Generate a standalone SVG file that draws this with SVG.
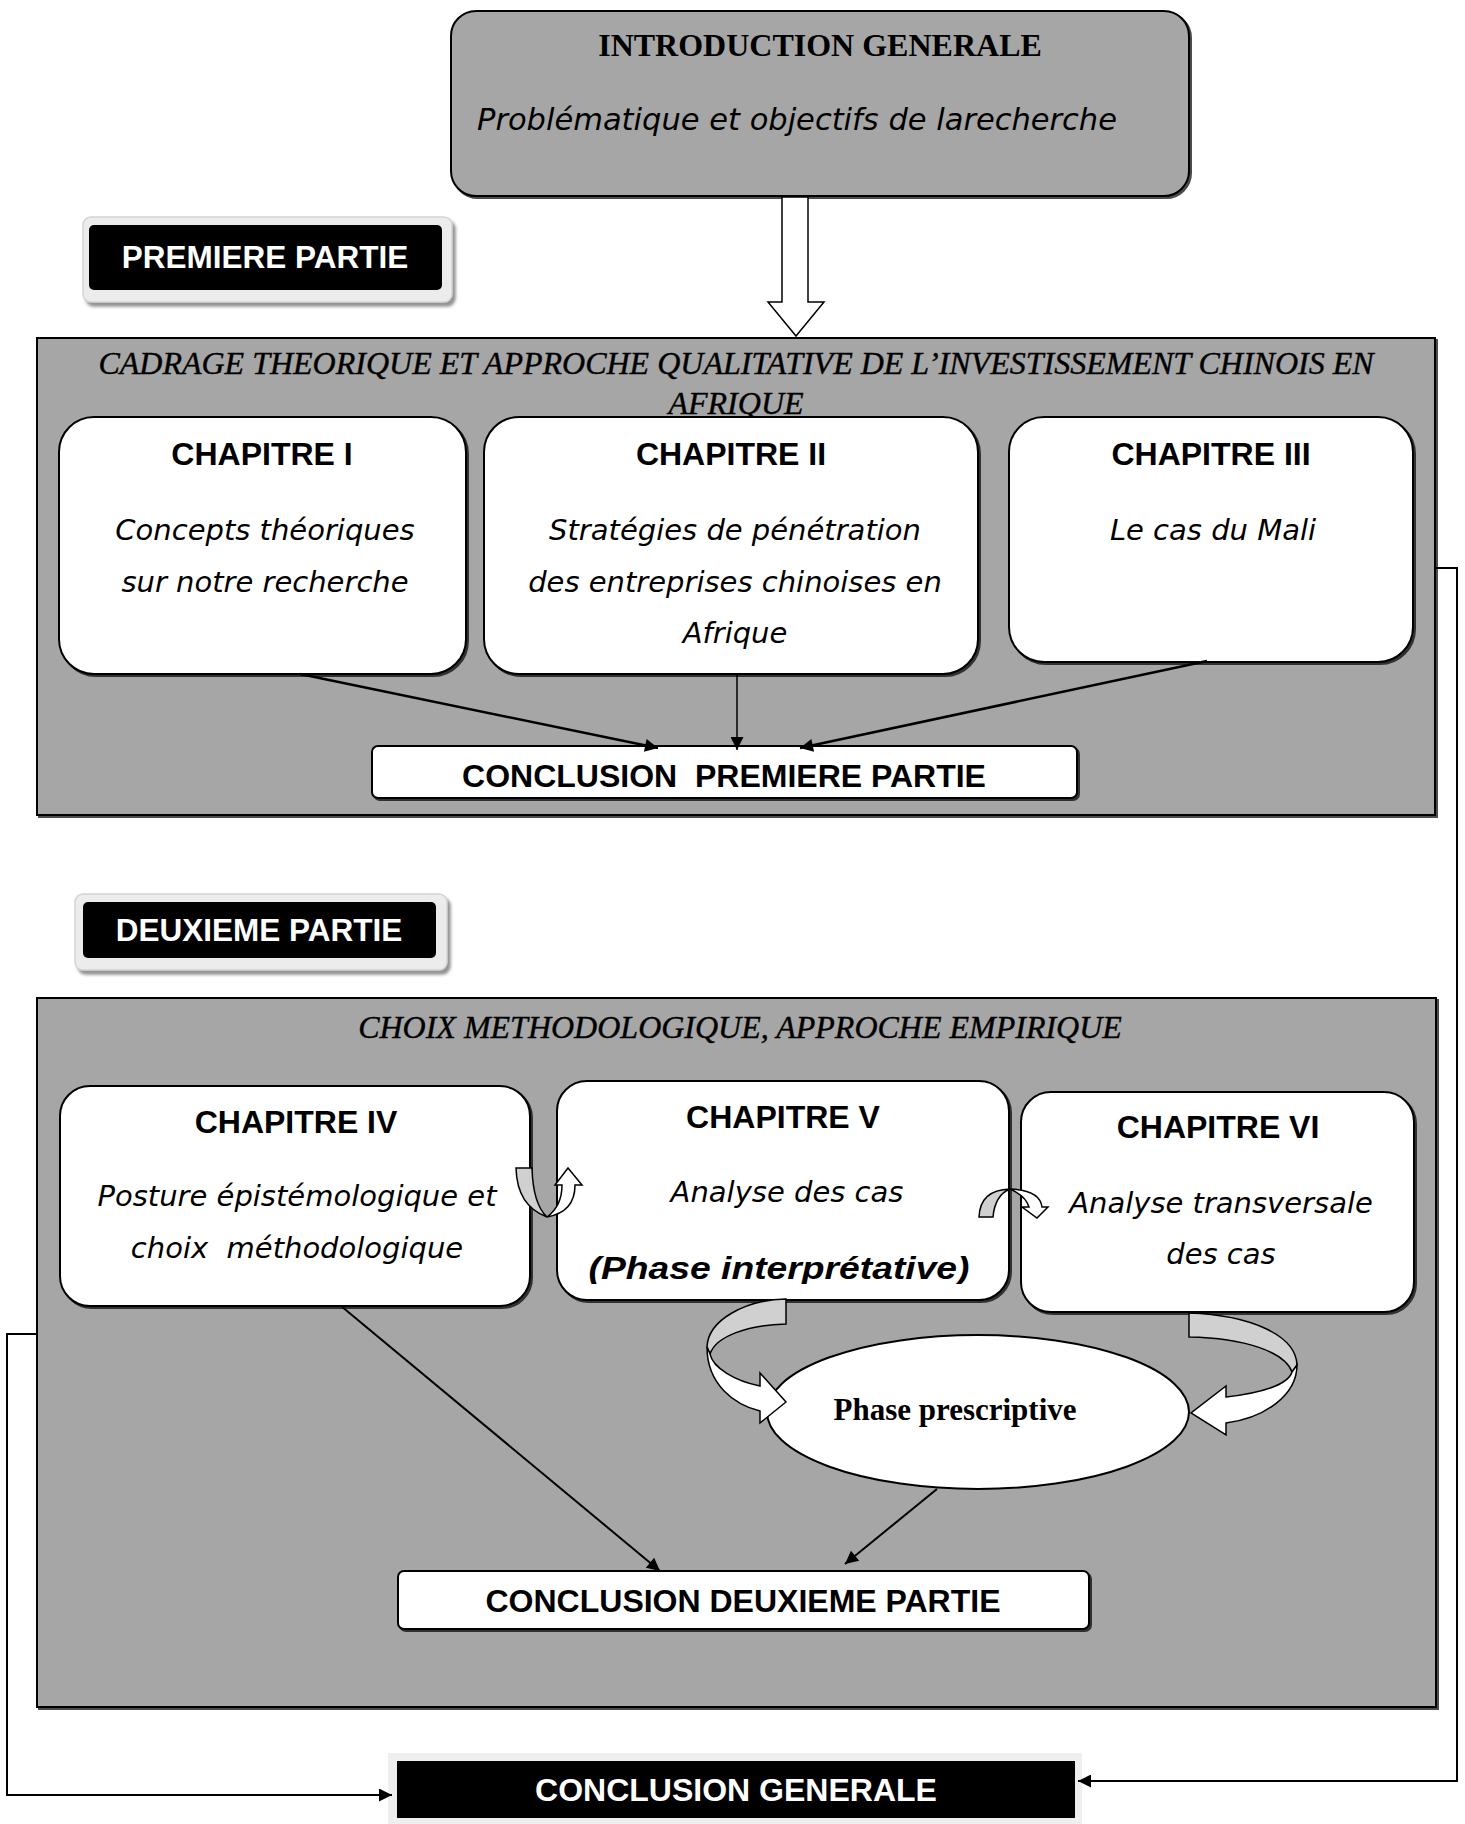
<svg xmlns="http://www.w3.org/2000/svg" width="1465" height="1824" viewBox="0 0 1465 1824">
<defs>
<style>
.frame{fill:#a6a6a6;stroke:#000;stroke-width:2}
.box{fill:#fff;stroke:#000;stroke-width:2}
.hb{font-family:"Liberation Sans",Arial,sans-serif;font-weight:bold;font-size:32px;text-anchor:middle;fill:#000;white-space:pre}
.wh{fill:#fff}
.cm{font-family:"DejaVu Sans",sans-serif;font-style:italic;font-size:29px;text-anchor:middle;fill:#000;white-space:pre}
.ti{font-family:"Liberation Serif","Times New Roman",serif;font-style:italic;font-size:32px;text-anchor:middle;fill:#000;stroke:#000;stroke-width:0.4}
.tb{font-family:"Liberation Serif","Times New Roman",serif;font-weight:bold;font-size:31px;text-anchor:middle;fill:#000}
.ln{stroke:#000;fill:none}
.cg{fill:#d0d0d0;stroke:#000;stroke-width:1.5}
.cw{fill:#fff;stroke:#000;stroke-width:1.5}
</style>
<filter id="sh" x="-5%" y="-5%" width="110%" height="110%">
<feDropShadow dx="2" dy="2" stdDeviation="0.6" flood-color="#000" flood-opacity="0.7"/>
</filter>
<filter id="bsh" x="-5%" y="-10%" width="115%" height="130%">
<feDropShadow dx="3" dy="4" stdDeviation="1.5" flood-color="#777" flood-opacity="0.8"/>
</filter>
<marker id="ah" viewBox="0 0 10 10" refX="10" refY="5" markerUnits="userSpaceOnUse" markerWidth="18" markerHeight="13" orient="auto">
<path d="M0,0 L10,5 L0,10 z" fill="#000"/>
</marker>
<clipPath id="c5"><rect x="557" y="1080" width="452" height="204"/></clipPath>
</defs>

<g id="intro">
<rect x="451" y="11" width="738" height="185" rx="25" fill="#a6a6a6" stroke="#000" stroke-width="2" filter="url(#sh)"/>
<text class="tb" x="820" y="56" style="font-size:32px">INTRODUCTION GENERALE</text>
<text class="cm" x="797" y="130" style="font-size:30.5px">Problématique et objectifs de larecherche</text>
</g>

<g id="premiere-badge">
<rect x="83" y="217" width="369" height="85" rx="8" fill="#ececec" stroke="#d4d4d4" stroke-width="1.5" filter="url(#bsh)"/>
<rect x="89" y="225" width="353" height="65" rx="5" fill="#000"/>
<text class="hb wh" x="265" y="268" style="font-size:31.5px">PREMIERE PARTIE</text>
</g>

<g id="part1">
<rect class="frame" x="37" y="338" width="1398" height="477" filter="url(#sh)"/>
<text class="ti" x="736" y="374">CADRAGE THEORIQUE ET APPROCHE QUALITATIVE DE L’INVESTISSEMENT CHINOIS EN</text>
<text class="ti" x="736" y="414">AFRIQUE</text>
</g>

<g id="ch1">
<rect class="box" x="59" y="417" width="407" height="257" rx="35" filter="url(#sh)"/>
<text class="hb" x="262" y="465">CHAPITRE I</text>
<text class="cm" x="265" y="540">Concepts théoriques</text>
<text class="cm" x="265" y="592">sur notre recherche</text>
</g>

<g id="ch2">
<rect class="box" x="484" y="417" width="494" height="257" rx="35" filter="url(#sh)"/>
<text class="hb" x="731" y="465">CHAPITRE II</text>
<text class="cm" x="735" y="540">Stratégies de pénétration</text>
<text class="cm" x="735" y="592">des entreprises chinoises en</text>
<text class="cm" x="735" y="643">Afrique</text>
</g>

<g id="ch3">
<rect class="box" x="1009" y="417" width="404" height="245" rx="35" filter="url(#sh)"/>
<text class="hb" x="1211" y="465">CHAPITRE III</text>
<text class="cm" x="1213" y="540">Le cas du Mali</text>
</g>

<g id="concl1">
<rect class="box" x="372" y="746" width="705" height="52" rx="6" filter="url(#sh)"/>
<text class="hb" x="724" y="787" xml:space="preserve">CONCLUSION  PREMIERE PARTIE</text>
</g>

<g id="deuxieme-badge">
<rect x="75" y="894" width="372" height="76" rx="8" fill="#ececec" stroke="#d4d4d4" stroke-width="1.5" filter="url(#bsh)"/>
<rect x="83" y="902" width="353" height="56" rx="5" fill="#000"/>
<text class="hb wh" x="259" y="941" style="font-size:31.5px">DEUXIEME PARTIE</text>
</g>

<g id="part2">
<rect class="frame" x="37" y="998" width="1399" height="709" filter="url(#sh)"/>
<text class="ti" x="740" y="1038">CHOIX METHODOLOGIQUE, APPROCHE EMPIRIQUE</text>
</g>

<g id="ch4">
<rect class="box" x="60" y="1086" width="470" height="220" rx="30" filter="url(#sh)"/>
<text class="hb" x="296" y="1133">CHAPITRE IV</text>
<text class="cm" x="297" y="1206">Posture épistémologique et</text>
<text class="cm" x="297" y="1258" xml:space="preserve">choix  méthodologique</text>
</g>

<g id="ch5">
<rect class="box" x="557" y="1081" width="452" height="219" rx="30" filter="url(#sh)"/>
<text class="hb" x="783" y="1128">CHAPITRE V</text>
<text class="cm" x="787" y="1202">Analyse des cas</text>
<text class="hb" x="779" y="1279" font-style="italic" textLength="381" lengthAdjust="spacingAndGlyphs" clip-path="url(#c5)">(Phase interprétative)</text>
</g>

<g id="ch6">
<rect class="box" x="1021" y="1092" width="393" height="220" rx="30" filter="url(#sh)"/>
<text class="hb" x="1218" y="1138">CHAPITRE VI</text>
<text class="cm" x="1221" y="1213">Analyse transversale</text>
<text class="cm" x="1221" y="1264">des cas</text>
</g>

<g id="phase">
<ellipse cx="978" cy="1412" rx="211" ry="77" fill="#fff" stroke="#000" stroke-width="2"/>
<text class="tb" x="955" y="1420">Phase prescriptive</text>
</g>

<g id="concl2">
<rect class="box" x="398" y="1571" width="691" height="58" rx="6" filter="url(#sh)"/>
<text class="hb" x="743" y="1612">CONCLUSION DEUXIEME PARTIE</text>
</g>

<g id="conclusion-generale">
<rect x="388" y="1753" width="694" height="71" fill="#efefef"/>
<rect x="397" y="1761" width="678" height="57" fill="#000"/>
<text class="hb wh" x="736" y="1801">CONCLUSION GENERALE</text>
</g>

<g id="connectors">
<polygon points="782,197 808,197 808,302 824,302 796,336 768,302 782,302" fill="#fff" stroke="#000" stroke-width="1.5"/>
<line class="ln" x1="300" y1="674" x2="658" y2="748" stroke-width="2.5" marker-end="url(#ah)"/>
<line class="ln" x1="737" y1="674" x2="737" y2="750" stroke-width="1.5" marker-end="url(#ah)"/>
<line class="ln" x1="1207" y1="661" x2="800" y2="748" stroke-width="2.5" marker-end="url(#ah)"/>
<path class="ln" d="M1436,568 H1457 V1781 H1078" stroke-width="2" marker-end="url(#ah)"/>
<path class="ln" d="M37,1334 H7 V1795 H392" stroke-width="2" marker-end="url(#ah)"/>
<line class="ln" x1="341" y1="1306" x2="660" y2="1571" stroke-width="2" marker-end="url(#ah)"/>
<line class="ln" x1="937" y1="1489" x2="845" y2="1564" stroke-width="2" marker-end="url(#ah)"/>
<path class="cg" d="M516,1168 L532,1168 Q533,1204 547,1217 Q517,1206 516,1168 Z"/>
<path class="cw" d="M547,1217 Q575,1212 575,1185 L582,1185 L568,1168 L555,1185 L562,1185 Q562,1206 547,1217 Z"/>
<path class="cg" d="M979,1217 L993,1217 Q995,1195 1010,1189 Q980,1190 979,1217 Z"/>
<path class="cw" d="M1010,1189 Q1040,1190 1042,1207 L1048,1207 L1037,1218 L1022,1207 L1029,1207 Q1026,1196 1010,1189 Z"/>
<path class="cg" d="M786,1299 C745,1300 708,1320 707,1347 L710,1354 C716,1336 748,1325 786,1324 Z"/>
<path class="cw" d="M707,1347 C707,1385 735,1405 760,1411 L760,1423 L786,1402 L760,1373 L760,1386 C735,1381 713,1368 710,1354 Z"/>
<path class="cg" d="M1189,1313 C1250,1315 1296,1335 1297,1365 L1292,1372 C1285,1352 1245,1338 1189,1337 Z"/>
<path class="cw" d="M1297,1365 C1297,1395 1265,1418 1226,1423 L1226,1435 L1191,1413 L1226,1386 L1226,1397 C1260,1393 1288,1385 1292,1372 Z"/>
</g>
</svg>
